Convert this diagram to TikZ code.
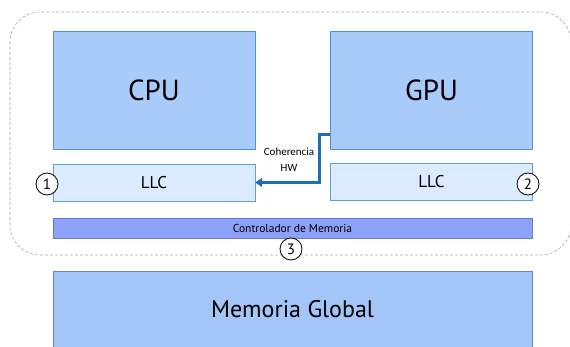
\documentclass[tikz,border=0pt]{standalone}
\usepackage{fontspec}
\setmainfont{PT Sans}
\newfontfamily\smallfont{Carlito}
\usetikzlibrary{arrows.meta}
\definecolor{procfill}{HTML}{A9CBFA}
\definecolor{procline}{HTML}{4F93CF}
\definecolor{llcfill}{HTML}{DBEAFC}
\definecolor{llcline}{HTML}{5BA3D3}
\definecolor{ctrlfill}{HTML}{8CA1F7}
\definecolor{ctrlline}{HTML}{6877D8}
\definecolor{memfill}{HTML}{A3C5F8}
\definecolor{memline}{HTML}{6B7FD6}
\definecolor{cohblue}{HTML}{1F6DB8}
\tikzstyle{proc} = [draw=procline, fill=procfill, rectangle, inner sep=0pt,
    minimum width=202pt, minimum height=118pt, font=\fontsize{29}{30}\selectfont]
\tikzstyle{llc} = [draw=llcline, fill=llcfill, rectangle, inner sep=0pt,
    minimum width=202pt, minimum height=37pt, font=\fontsize{17}{18}\selectfont]
\tikzstyle{ctrl} = [draw=ctrlline, fill=ctrlfill, rectangle, inner sep=0pt,
    minimum width=479pt, minimum height=20pt, font=\fontsize{11.5}{12}\selectfont]
\tikzstyle{mem} = [draw=memline, fill=memfill, rectangle, inner sep=0pt,
    minimum width=479pt, minimum height=76pt, font=\fontsize{24}{25}\selectfont]
\tikzstyle{num} = [draw=black, thick, circle, inner sep=0pt, minimum size=22pt,
    font=\fontsize{15}{16}\selectfont]
\tikzstyle{coher} = [draw=cohblue, line width=3pt, -{Triangle[length=7pt,width=9pt]}]

\begin{document}
\begin{tikzpicture}[x=1pt, y=-1pt]
                \useasboundingbox (0,0) rectangle (570,347);
                % chip boundary
                \draw[gray!70, line width=0.6pt, dash pattern=on 3pt off 2pt, rounded corners=30pt] (10,12) rectangle (571,255);
                \node [proc] (cpu) at (154,90) {CPU};
                \node [proc] (gpu) at (431.5,90) {GPU};
                \node [llc] (llcL) at (154,182.5) {LLC};
                \node [llc] (llcR) at (431.5,181.5) {LLC};
                \node [ctrl] (ctrl) at (292.5,228) {Controlador de Memoria};
                \node [mem] (mem) at (292.5,309) {Memoria Global};
                \node [num, fill=white] (n1) at (47,184) {1};
                \node [num, fill=white] (n2) at (528,184) {2};
                \node [num, fill=white] (n3) at (291,249) {3};
                \node [font=\smallfont\fontsize{11}{16}\selectfont, align=center] (coh) at (289,160) {Coherencia\\HW};
                \draw[coher] ([yshift=15pt]gpu.south west) -- ++(-11,0) |- (llcL.east);
            \end{tikzpicture}
\end{document}
